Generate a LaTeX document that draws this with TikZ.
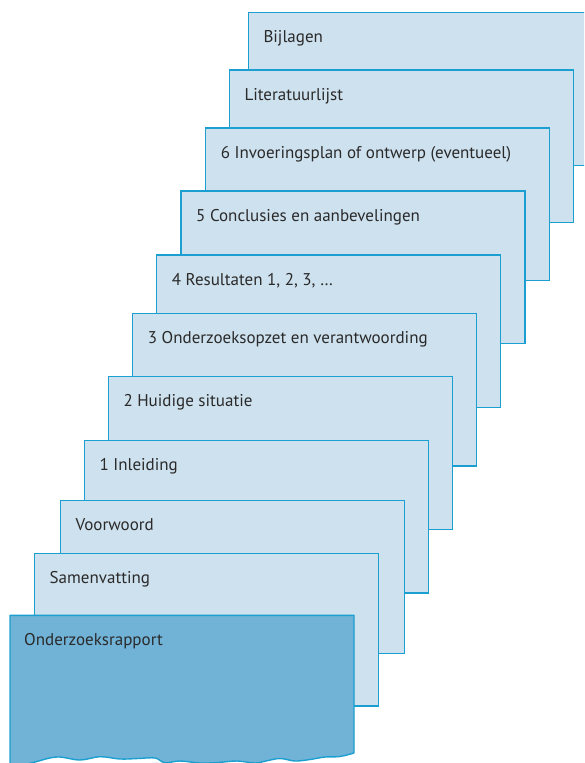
\documentclass[tikz,border=0pt]{standalone}
\usepackage{fontspec}
\setmainfont{PT Sans}
\usetikzlibrary{calc}
\definecolor{pagefill}{HTML}{CEE1EE}
\definecolor{pageline}{HTML}{1B9FD0}
\definecolor{frontfill}{HTML}{71B3D7}
\definecolor{txt}{HTML}{2A2A2A}
\begin{document}
\begin{tikzpicture}[x=1pt,y=-1pt,
  pagebox/.style={draw=pageline, fill=pagefill, line width=1.4pt, anchor=north west,
    minimum width=344pt, minimum height=152.5pt, inner sep=0pt, outer sep=0pt},
  lbl/.style={anchor=base west, inner sep=0pt, text=txt, font=\fontsize{17}{20}\selectfont}]
\useasboundingbox (0,0) rectangle (584,763);
\clip (0,0) rectangle (584,763);
% back to front
\node[pagebox] (p10) at (248.3,12.7) {};
\node[lbl] (t10) at ($(p10.north west)+(15,30)$) {Bijlagen};
\node[pagebox] (p9) at (229.3,70) {};
\node[lbl] (t9) at ($(p9.north west)+(15,30)$) {Literatuurlijst};
\node[pagebox] (p8) at (205.7,128) {};
\node[lbl] (t8) at ($(p8.north west)+(15,30)$) {6 Invoeringsplan of ontwerp (eventueel)};
\node[pagebox] (p7) at (181,191) {};
\node[lbl] (t7) at ($(p7.north west)+(15,30)$) {5 Conclusies en aanbevelingen};
\node[pagebox] (p6) at (156.7,255) {};
\node[lbl] (t6) at ($(p6.north west)+(15,30)$) {4 Resultaten 1, 2, 3, …};
\node[pagebox] (p5) at (132.7,313.3) {};
\node[lbl] (t5) at ($(p5.north west)+(15,30)$) {3 Onderzoeksopzet en verantwoording};
\node[pagebox] (p4) at (108.3,376.7) {};
\node[lbl] (t4) at ($(p4.north west)+(15,30)$) {2 Huidige situatie};
\node[pagebox] (p3) at (84.3,440.3) {};
\node[lbl] (t3) at ($(p3.north west)+(15,30)$) {1 Inleiding};
\node[pagebox] (p2) at (60.5,500.7) {};
\node[lbl] (t2) at ($(p2.north west)+(15,30)$) {Voorwoord};
\node[pagebox] (p1) at (34.5,553.3) {};
\node[lbl] (t1) at ($(p1.north west)+(15,30)$) {Samenvatting};
% front page with torn (wavy) bottom
\coordinate (p0) at (10,615.3);
\draw[draw=pageline, fill=frontfill, line width=1.4pt, line join=round]
  (10,770) -- (p0) -- (354,615.3) -- (354,753)
  plot[smooth, tension=0.6] coordinates {(354,753) (340,756.5) (325,757) (310,759.5) (295,761) (280,758.5) (266,761) (255,763) (237,761) (218,762.5) (200,763) (180,761) (165,762.7) (155,758) (138,758.5) (120,759) (100,756.7) (80,760) (57,757) (35,762) (20,766) (10,770)};
\node[lbl] (t0) at ($(p0)+(14,30)$) {Onderzoeksrapport};
\end{tikzpicture}
\end{document}
